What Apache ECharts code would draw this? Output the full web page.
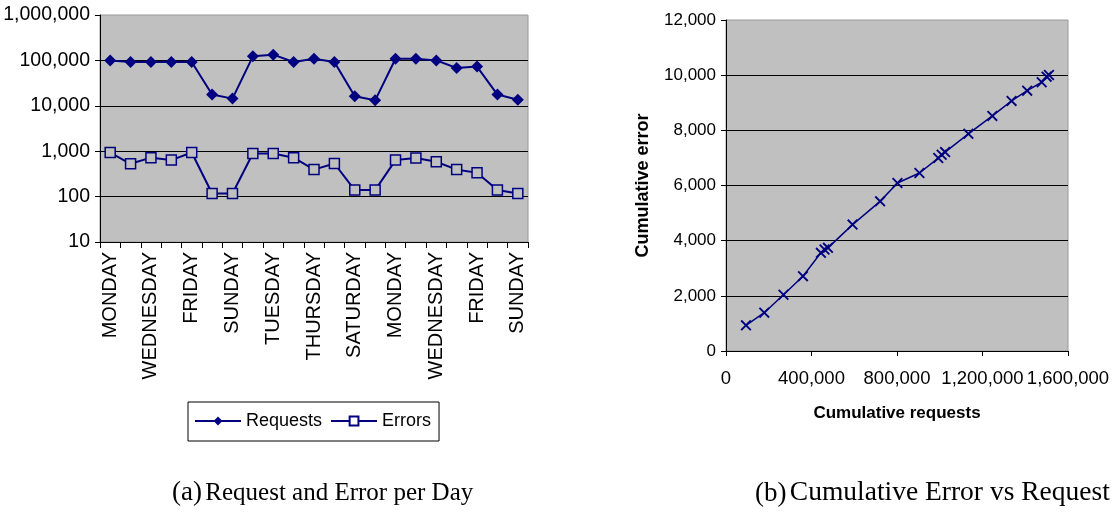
<!DOCTYPE html>
<html>
<head>
<meta charset="utf-8">
<script src="https://cdn.jsdelivr.net/npm/echarts@6/dist/echarts.min.js"></script>
<style>
html,body{margin:0;padding:0;background:#fff;}
#main{width:1114px;height:519px;}
</style>
</head>
<body>
<div id="main"></div>
<script>
// ---- data (a) per-day ----
const days = ['MONDAY','TUESDAY','WEDNESDAY','THURSDAY','FRIDAY','SATURDAY','SUNDAY',
              'MONDAY','TUESDAY','WEDNESDAY','THURSDAY','FRIDAY','SATURDAY','SUNDAY',
              'MONDAY','TUESDAY','WEDNESDAY','THURSDAY','FRIDAY','SATURDAY','SUNDAY'];
const requests = [100000, 92000, 92000, 92000, 92000, 17700, 14400, 123000, 134000, 92000, 109000,
                  92000, 16200, 13200, 109000, 109000, 100000, 68000, 73000, 17700, 13600];
const errors = [935, 527, 721, 637, 935, 117, 117, 887, 887, 721, 393,
                536, 139, 139, 637, 706, 585, 393, 336, 139, 117];
const logTicks = [10, 100, 1000, 10000, 100000, 1000000];

// ---- data (b) cumulative ----
const cumRequests = [93500, 179000, 269000, 360000, 444000, 461000, 477000, 592000, 721000, 802000, 905000,
                     993000, 1009000, 1025000, 1134000, 1246000, 1336000, 1409000, 1477000, 1500000, 1511000];
const cumErrors = [930, 1389, 2040, 2712, 3559, 3678, 3740, 4582, 5425, 6090, 6452,
                   6995, 7114, 7212, 7873, 8524, 9067, 9439, 9743, 9946, 10007];

const NAVY = '#000080';
const SANS = 'Liberation Sans, Arial, sans-serif';
const SERIF = 'Liberation Serif, Times New Roman, serif';
const fmt = v => Math.round(v).toLocaleString('en-US');
const crossPath = 'path://M0,1.2L1.2,0L10,8.8L8.8,10Z M8.8,0L10,1.2L1.2,10L0,8.8Z';

const chart = echarts.init(document.getElementById('main'), null, {renderer: 'canvas'});
chart.setOption({
  animation: false,
  backgroundColor: '#fff',
  textStyle: {fontFamily: SANS, color: '#000'},
  grid: [
    {left: 100, top: 15, width: 428, height: 227, show: true, backgroundColor: '#C0C0C0',
     borderColor: '#9a9a9a', borderWidth: 1},
    {left: 726, top: 20, width: 342, height: 331, show: true, backgroundColor: '#C0C0C0',
     borderColor: '#9a9a9a', borderWidth: 1}
  ],
  legend: {
    data: [{name: 'Requests'}, {name: 'Errors', itemStyle: {color: '#fff'}}],
    left: 188, top: 402,
    padding: [10, 8, 11, 6],
    itemGap: 8, itemWidth: 46, itemHeight: 11,
    borderColor: '#000', borderWidth: 1, borderRadius: 0,
    backgroundColor: '#fff',
    textStyle: {fontSize: 18, fontFamily: SANS, color: '#000'}
  },
  xAxis: [
    {type: 'category', gridIndex: 0, data: days, boundaryGap: true,
     axisLine: {show: true, lineStyle: {color: '#000', width: 1}},
     axisTick: {show: true, interval: 0, length: 6, lineStyle: {color: '#000'}},
     axisLabel: {interval: 1, rotate: 90, fontSize: 20, color: '#000', margin: 10, fontFamily: SANS},
     splitLine: {show: false}},
    {type: 'value', gridIndex: 1, min: 0, max: 1600000, interval: 400000,
     axisLine: {show: true, lineStyle: {color: '#000', width: 1}},
     axisTick: {show: true, length: 5, lineStyle: {color: '#000'}},
     axisLabel: {fontSize: 18.5, color: '#000', margin: 18, formatter: fmt, fontFamily: SANS},
     splitLine: {show: false},
     name: 'Cumulative requests', nameLocation: 'middle', nameGap: 54,
     nameTextStyle: {fontSize: 17, fontWeight: 'bold', color: '#000', fontFamily: SANS}}
  ],
  yAxis: [
    {type: 'log', logBase: 10, gridIndex: 0, min: logTicks[0], max: logTicks[logTicks.length - 1],
     axisLine: {show: true, lineStyle: {color: '#000', width: 1}},
     axisTick: {show: true, length: 5, lineStyle: {color: '#000'}},
     axisLabel: {fontSize: 19.5, color: '#000', margin: 10, formatter: fmt, fontFamily: SANS},
     splitLine: {show: true, showMaxLine: false, lineStyle: {color: '#000', width: 1}},
     minorTick: {show: false}},
    {type: 'value', gridIndex: 1, min: 0, max: 12000, interval: 2000,
     axisLine: {show: true, lineStyle: {color: '#000', width: 1}},
     axisTick: {show: true, length: 5, lineStyle: {color: '#000'}},
     axisLabel: {fontSize: 17, color: '#000', margin: 10, formatter: fmt, fontFamily: SANS},
     splitLine: {show: true, showMaxLine: false, lineStyle: {color: '#000', width: 1}},
     name: 'Cumulative error', nameLocation: 'middle', nameGap: 74, nameRotate: 90,
     nameTextStyle: {fontSize: 18, fontWeight: 'bold', color: '#000', fontFamily: SANS}}
  ],
  series: [
    {name: 'Requests', type: 'line', xAxisIndex: 0, yAxisIndex: 0, data: requests,
     symbol: 'diamond', symbolSize: 12, color: NAVY,
     itemStyle: {color: NAVY}, lineStyle: {color: NAVY, width: 2}},
    {name: 'Errors', type: 'line', xAxisIndex: 0, yAxisIndex: 0, data: errors,
     symbol: 'rect', symbolSize: 10, color: NAVY,
     itemStyle: {color: '#C0C0C0', borderColor: NAVY, borderWidth: 1.5},
     lineStyle: {color: NAVY, width: 2}},
    {name: 'Cumulative', type: 'line', xAxisIndex: 1, yAxisIndex: 1,
     data: cumRequests.map((r, i) => [r, cumErrors[i]]),
     symbol: crossPath, symbolSize: 11, color: NAVY,
     itemStyle: {color: NAVY}, lineStyle: {color: NAVY, width: 1.5}}
  ],
  graphic: [
    {type: 'text', left: 172, top: 479,
     style: {text: '{p|(a)} {t|Request and Error per Day}', fill: '#000',
       rich: {p: {fontSize: 27, fontFamily: SERIF, verticalAlign: 'bottom', lineHeight: 32},
              t: {fontSize: 25, fontFamily: SERIF, verticalAlign: 'bottom', lineHeight: 32}}}},
    {type: 'text', left: 755, top: 479,
     style: {text: '{p|(b)} {t|Cumulative Error vs Request}', fill: '#000',
       rich: {p: {fontSize: 27, fontFamily: SERIF, verticalAlign: 'bottom', lineHeight: 32},
              t: {fontSize: 27.5, fontFamily: SERIF, verticalAlign: 'bottom', lineHeight: 32}}}}
  ]
});
</script>
</body>
</html>
